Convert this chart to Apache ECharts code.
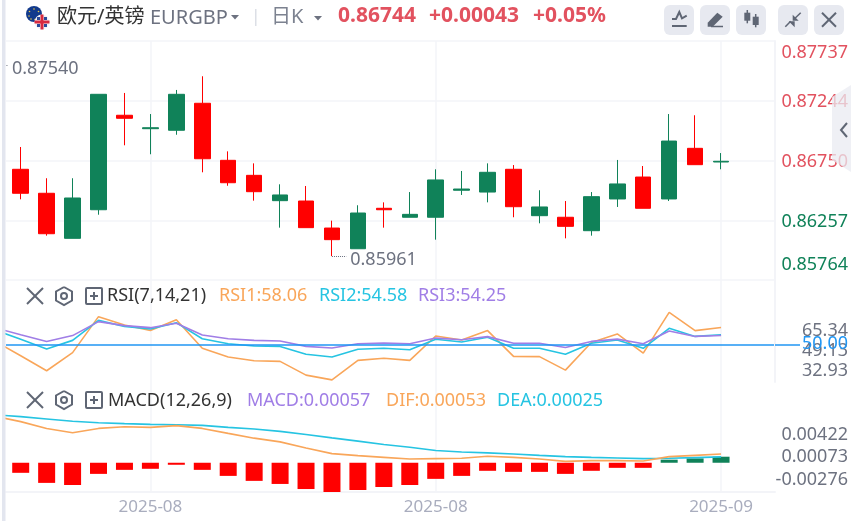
<!DOCTYPE html>
<html>
<head>
<meta charset="utf-8">
<title>EURGBP</title>
<style>
  html, body { margin: 0; padding: 0; background: #fff; }
  #chart { width: 851px; height: 521px; }
</style>
</head>
<body>
<div id="chart"></div>
<script src="https://cdn.jsdelivr.net/npm/echarts@6/dist/echarts.min.js"></script>
<script>
// 第一根(-1)在画面左边外面，只露出连线
const xIndex = [-1, 0, 1, 2, 3, 4, 5, 6, 7, 8, 9, 10, 11, 12, 13, 14, 15, 16, 17, 18, 19, 20, 21, 22, 23, 24, 25, 26, 27]
const openPrice = [0.87300, 0.86678, 0.86480, 0.86108, 0.86344, 0.87124, 0.87013, 0.87000, 0.87223, 0.86752, 0.86628, 0.86419, 0.86416, 0.86193, 0.86022, 0.86356, 0.86282, 0.86282, 0.86505, 0.86490, 0.86678, 0.86295, 0.86282, 0.86171, 0.86433, 0.86614, 0.86433, 0.86851, 0.86738]
const closePrice = [0.86700, 0.86480, 0.86146, 0.86441, 0.87297, 0.87099, 0.87021, 0.87297, 0.86765, 0.86567, 0.86493, 0.86466, 0.86196, 0.86097, 0.86317, 0.86344, 0.86306, 0.86590, 0.86515, 0.86653, 0.86369, 0.86367, 0.86207, 0.86452, 0.86557, 0.86356, 0.86911, 0.86716, 0.86744]
const lowPrice = [0.86650, 0.86430, 0.86130, 0.86108, 0.86303, 0.86876, 0.86802, 0.86963, 0.86653, 0.86542, 0.86419, 0.86196, 0.86196, 0.85961, 0.86022, 0.86196, 0.86282, 0.86097, 0.86466, 0.86405, 0.86282, 0.86232, 0.86108, 0.86130, 0.86367, 0.86356, 0.86416, 0.86716, 0.86678]
const highPrice = [0.87540, 0.86862, 0.86604, 0.86604, 0.87297, 0.87308, 0.87134, 0.87333, 0.87446, 0.86826, 0.86727, 0.86554, 0.86540, 0.86254, 0.86381, 0.86405, 0.86490, 0.86678, 0.86664, 0.86727, 0.86713, 0.86505, 0.86416, 0.86490, 0.86755, 0.86705, 0.87134, 0.87124, 0.86812]

const rsi1 = [51.6, 44.5, 37.3, 46.0, 63.3, 59.3, 56.6, 61.8, 48.1, 43.9, 42.1, 41.8, 35.2, 32.93, 42.3, 43.3, 42.3, 54.0, 52.1, 56.6, 44.2, 44.1, 37.6, 50.9, 55.0, 45.8, 65.34, 56.6, 58.06]
const rsi2 = [56.9, 52.4, 47.7, 51.9, 61.5, 58.6, 57.4, 60.4, 52.7, 50.3, 49.2, 49.0, 45.2, 43.9, 47.6, 48.1, 47.4, 52.4, 51.1, 53.4, 48.1, 48.1, 45.2, 50.5, 52.1, 48.1, 57.7, 53.8, 54.58]
const rsi3 = [58.0, 54.6, 51.4, 54.2, 60.9, 59.0, 58.0, 60.1, 54.5, 52.7, 51.9, 51.6, 49.0, 48.2, 50.3, 50.6, 50.3, 53.0, 52.2, 53.7, 50.5, 50.5, 48.5, 51.4, 52.5, 50.3, 56.4, 53.8, 54.25]

const macdBar = [-0.00060, -0.00095, -0.00190, -0.00210, -0.00105, -0.00067, -0.00057, -0.00019, -0.00067, -0.00124, -0.00171, -0.00200, -0.00248, -0.00276, -0.00257, -0.00229, -0.00210, -0.00152, -0.00124, -0.00076, -0.00086, -0.00086, -0.00105, -0.00076, -0.00048, -0.00048, 0.00029, 0.00041, 0.00057]
const dif = [0.00409, 0.00358, 0.00294, 0.00253, 0.00294, 0.00310, 0.00304, 0.00320, 0.00294, 0.00247, 0.00202, 0.00167, 0.00110, 0.00056, 0.00037, 0.00021, 0.00005, 0.00009, 0.00012, 0.00031, 0.00021, 0.00005, -0.00017, -0.00010, -0.00010, -0.00014, 0.00028, 0.00040, 0.00053]
const dea = [0.00422, 0.00405, 0.00383, 0.00361, 0.00348, 0.00339, 0.00332, 0.00329, 0.00323, 0.00304, 0.00288, 0.00266, 0.00237, 0.00205, 0.00174, 0.00142, 0.00117, 0.00085, 0.00072, 0.00063, 0.00053, 0.00040, 0.00028, 0.00021, 0.00015, 0.00009, 0.00012, 0.00018, 0.00025]

const dateTickIndex = [5, 16, 27]
const dateTickLabel = ['2025-08', '2025-08', '2025-09']
const priceTicks = [0.85764, 0.86257, 0.86750, 0.87244, 0.87737]
const rsiTicks = [32.93, 49.13, 65.34]
const macdTicks = [-0.00276, 0.00073, 0.00422]
const rsiBase = [50]

const FONT = '"Noto Sans", "Noto Sans CJK SC", sans-serif'
const UP = '#108259'
const DOWN = '#ff0000'
const LINE = '#f3f4f8'
const GREY = '#6d7280'
const ICON = '#5f6674'
const ORANGE = '#f9a65a'
const CYAN = '#26c4e2'
const PURPLE = '#a07ee6'
const RED_TEXT = '#e2525f'

const myChart = echarts.init(document.getElementById('chart'))

function xAxisOf(gridIndex, showLabel) {
  return {
    type: 'value',
    gridIndex: gridIndex,
    min: -0.567,
    max: 29.08,
    axisLine: { show: showLabel, onZero: false, lineStyle: { color: LINE, width: 2 } },
    axisTick: { show: false, customValues: dateTickIndex },
    axisLabel: {
      show: showLabel,
      customValues: dateTickIndex,
      margin: 7,
      fontFamily: FONT,
      fontSize: 17,
      color: '#a9adbe',
      formatter: (v) => dateTickLabel[dateTickIndex.indexOf(v)],
    },
    splitLine: { show: true, lineStyle: { color: LINE, width: 1.5 } },
  }
}

// 只负责写数字的轴，数字的位置和曲线不是同一个比例
function labelAxis(gridIndex, min, max, ticks, decimals) {
  return {
    type: 'value',
    gridIndex: gridIndex,
    position: 'right',
    min: min,
    max: max,
    axisLine: { show: false },
    axisTick: { show: false, customValues: ticks },
    splitLine: { show: false },
    axisLabel: {
      customValues: ticks,
      margin: 73,
      align: 'right',
      fontFamily: FONT,
      fontSize: 18,
      color: GREY,
      formatter: (v) => v.toFixed(decimals),
    },
  }
}

function hiddenAxis(gridIndex, min, max) {
  return {
    type: 'value',
    gridIndex: gridIndex,
    position: 'right',
    min: min,
    max: max,
    axisLine: { show: false },
    axisTick: { show: false },
    axisLabel: { show: false },
    splitLine: { show: false },
  }
}

function lineSeries(data, color, yAxisIndex, gridIndex) {
  return {
    type: 'line',
    xAxisIndex: gridIndex,
    yAxisIndex: yAxisIndex,
    data: xIndex.map((x, i) => [x, data[i]]),
    showSymbol: false,
    lineStyle: { color: color, width: 1.6 },
    z: 3,
  }
}

function text(x, y, str, color, size, weight) {
  return {
    type: 'text',
    x: x,
    y: y,
    style: {
      text: str,
      fill: color,
      font: (weight || 'normal') + ' ' + size + 'px ' + FONT,
      textVerticalAlign: 'middle',
    },
    z: 20,
  }
}

function poly(points, color, width) {
  return {
    type: 'polyline',
    shape: { points: points },
    style: { stroke: color || ICON, lineWidth: width || 2, fill: 'none' },
    z: 20,
  }
}

function solid(points, color, z) {
  return { type: 'polygon', shape: { points: points }, style: { fill: color || ICON }, z: z || 20 }
}

function button(x) {
  return {
    type: 'rect',
    shape: { x: x, y: 5, width: 30, height: 30, r: 6 },
    style: { fill: '#e7e9f0' },
    z: 19,
  }
}

function panelIcons(y) {
  return [
    poly([[27, y - 8], [43, y + 8]], ICON, 2),
    poly([[43, y - 8], [27, y + 8]], ICON, 2),
    poly([[64, y - 9], [72, y - 4.5], [72, y + 4.5], [64, y + 9], [56, y + 4.5], [56, y - 4.5], [64, y - 9]], ICON, 2),
    { type: 'circle', shape: { cx: 64, cy: y, r: 3 }, style: { stroke: ICON, lineWidth: 2, fill: 'none' }, z: 20 },
    { type: 'rect', shape: { x: 86, y: y - 8, width: 16, height: 16, r: 1 }, style: { stroke: ICON, lineWidth: 2, fill: 'none' }, z: 20 },
    poly([[94, y - 4], [94, y + 4]], ICON, 2),
    poly([[90, y], [98, y]], ICON, 2),
  ]
}

function star(cx, cy) {
  return { type: 'circle', shape: { cx: cx, cy: cy, r: 0.8 }, style: { fill: '#e8c84a' }, z: 20 }
}

const graphicItems = [
  // 左边的灰条
  { type: 'rect', shape: { x: 0, y: 0, width: 2, height: 521 }, style: { fill: '#fff' }, z: 18 },
  { type: 'rect', shape: { x: 2, y: 0, width: 3.5, height: 521 }, style: { fill: '#e3e6ef' }, z: 18 },
  // 国旗
  { type: 'circle', shape: { cx: 34, cy: 14, r: 8 }, style: { fill: '#123a8c' }, z: 20 },
  star(34, 9), star(29.5, 11.5), star(38.5, 11.5), star(29, 16), star(31, 19), star(35, 19.5),
  { type: 'circle', shape: { cx: 42, cy: 22, r: 7.5 }, style: { fill: '#f1f1f6' }, z: 21 },
  solid([[37, 17], [40, 17], [40, 20], [37, 20]], '#2a4a9a', 21),
  solid([[44, 17], [47, 17], [47, 20], [44, 20]], '#2a4a9a', 21),
  solid([[37, 24], [40, 24], [40, 27], [37, 27]], '#2a4a9a', 21),
  solid([[44, 24], [47, 24], [47, 27], [44, 27]], '#2a4a9a', 21),
  { type: 'rect', shape: { x: 40.5, y: 14.5, width: 3, height: 15 }, style: { fill: '#d8293f' }, z: 22 },
  { type: 'rect', shape: { x: 34.5, y: 20.5, width: 15, height: 3 }, style: { fill: '#d8293f' }, z: 22 },
  text(57, 17, '欧元/英镑', '#333', 20),
  text(150, 18, 'EURGBP', GREY, 20),
  solid([[231, 15], [239, 15], [235, 19.5]], GREY),
  { type: 'rect', shape: { x: 255, y: 9, width: 1.5, height: 17 }, style: { fill: '#dcdfe6' }, z: 20 },
  text(271, 17, '日K', '#7c8290', 20),
  solid([[314, 16], [322, 16], [318, 20.5]], GREY),
  text(338, 16, '0.86744', RED_TEXT, 21, 'bold'),
  text(429, 16, '+0.00043', RED_TEXT, 21, 'bold'),
  text(533, 16, '+0.05%', RED_TEXT, 21, 'bold'),
  button(664), button(700), button(736), button(778), button(814),
  // 工具按钮
  poly([[672, 19], [676, 19], [679.3, 12], [682, 18.3], [686.7, 15.7]], ICON, 2),
  poly([[672, 26], [686.7, 26]], ICON, 2),
  solid([[707.7, 22.7], [717.3, 12.7], [722.7, 16.7], [712.7, 26.7], [707.7, 26.7]]),
  poly([[711, 26.5], [723, 26.5]], ICON, 1.5),
  { type: 'rect', shape: { x: 744.3, y: 12.7, width: 6, height: 8 }, style: { fill: ICON }, z: 20 },
  poly([[747.3, 10], [747.3, 23.3]], ICON, 1.5),
  { type: 'rect', shape: { x: 752.7, y: 16.7, width: 6, height: 8.3 }, style: { fill: ICON }, z: 20 },
  poly([[755.7, 14], [755.7, 27.3]], ICON, 1.5),
  poly([[785.3, 26.7], [790.7, 21.3]], ICON, 1.5),
  solid([[788.7, 21.3], [794.7, 21.3], [794.7, 27.3]]),
  poly([[800.7, 12.7], [795, 18.3]], ICON, 1.5),
  solid([[792.7, 14.7], [792.7, 20.7], [798.7, 20.7]]),
  poly([[822, 12.7], [836, 26.7]], ICON, 2),
  poly([[836, 12.7], [822, 26.7]], ICON, 2),
  // 右边收起的小把手
  { type: 'polygon', shape: { points: [[851, 85], [832, 97], [832, 160], [851, 172]] }, style: { fill: 'rgba(233,235,241,0.75)' }, z: 19 },
  poly([[847, 123], [841, 130], [847, 137]], ICON, 2),
  // 副图标题
  ...panelIcons(296),
  text(107, 296, 'RSI(7,14,21)', '#333', 18),
  text(219, 296, 'RSI1:58.06', ORANGE, 18),
  text(319, 296, 'RSI2:54.58', CYAN, 18),
  text(418, 296, 'RSI3:54.25', PURPLE, 18),
  ...panelIcons(400),
  text(108, 401, 'MACD(12,26,9)', '#333', 18),
  text(247, 401, 'MACD:0.00057', PURPLE, 18),
  text(386, 401, 'DIF:0.00053', ORANGE, 18),
  text(497, 401, 'DEA:0.00025', CYAN, 18),
]

const extremeLabel = {
  show: true,
  position: 'end',
  distance: 4,
  offset: [0, 4],
  fontFamily: FONT,
  fontSize: 18,
  color: GREY,
  formatter: (p) => p.value.toFixed(5),
}

const option = {
  animation: false,
  backgroundColor: '#fff',
  grid: [
    { left: 6, width: 769, top: 41, height: 239 },
    { left: 6, width: 769, top: 280, height: 102 },
    { left: 6, width: 769, top: 382, height: 110 },
  ],
  xAxis: [xAxisOf(0, false), xAxisOf(1, false), xAxisOf(2, true)],
  yAxis: [
    {
      type: 'value',
      gridIndex: 0,
      position: 'right',
      min: priceTicks[0],
      max: priceTicks[4],
      axisLine: { show: true, onZero: false, lineStyle: { color: LINE, width: 2 } },
      axisTick: { show: false, customValues: priceTicks },
      splitLine: { show: true, lineStyle: { color: LINE, width: 1.5 } },
      axisLabel: {
        customValues: priceTicks,
        margin: 73,
        align: 'right',
        fontFamily: FONT,
        fontSize: 18,
        color: (v) => (parseFloat(v) >= 0.867 ? RED_TEXT : UP),
        // 最上最下两个数字往里收，中间的略低于网格线
        formatter: (v) => {
          const key = v === priceTicks[4] ? 't' : v === priceTicks[0] ? 'b' : 'm'
          return '{' + key + '|' + v.toFixed(5) + '}'
        },
        rich: {
          t: { padding: [24, 0, 0, 0], fontFamily: FONT, fontSize: 18 },
          m: { padding: [3, 0, 0, 0], fontFamily: FONT, fontSize: 18 },
          b: { padding: [0, 0, 30, 0], fontFamily: FONT, fontSize: 18 },
        },
      },
    },
    {
      type: 'value',
      gridIndex: 1,
      position: 'right',
      min: 31.9,
      max: 80.9,
      axisLine: { show: true, onZero: false, lineStyle: { color: LINE, width: 2 } },
      axisTick: { show: true, customValues: rsiBase, length: 25, lineStyle: { color: '#2196f3', width: 1.5 } },
      splitLine: { show: false },
      axisLabel: {
        customValues: rsiBase,
        margin: 73,
        align: 'right',
        fontFamily: FONT,
        fontSize: 18,
        color: '#2196f3',
        formatter: (v) => v.toFixed(2),
      },
      z: 5,
    },
    labelAxis(1, 23.6, 106.24, rsiTicks, 2),
    hiddenAxis(2, -0.00306, 0.00732),
    hiddenAxis(2, -0.00276, 0.00762),
    labelAxis(2, -0.0047, 0.01236, macdTicks, 5),
  ],
  series: [
    {
      type: 'candlestick',
      xAxisIndex: 0,
      yAxisIndex: 0,
      barWidth: 16,
      data: xIndex.map((x, i) => [x, openPrice[i], closePrice[i], lowPrice[i], highPrice[i]]),
      itemStyle: { color: UP, color0: DOWN, borderColor: UP, borderColor0: DOWN, borderWidth: 1 },
      markLine: {
        silent: true,
        symbol: 'none',
        lineStyle: { color: GREY, type: 'dotted', width: 1 },
        label: extremeLabel,
        data: [
          [{ coord: [-0.55, highPrice[0]], value: highPrice[0] }, { coord: [-0.49, highPrice[0]] }],
          [{ coord: [12, lowPrice[13]], value: lowPrice[13] }, { coord: [12.55, lowPrice[13]] }],
        ],
      },
    },
    lineSeries(rsi1, ORANGE, 1, 1),
    lineSeries(rsi2, CYAN, 1, 1),
    Object.assign(lineSeries(rsi3, PURPLE, 1, 1), {
      markLine: {
        silent: true,
        symbol: 'none',
        label: { show: false },
        lineStyle: { color: '#2196f3', type: 'solid', width: 1.5 },
        data: [{ yAxis: rsiBase[0] }],
      },
    }),
    {
      type: 'bar',
      xAxisIndex: 2,
      yAxisIndex: 4,
      barWidth: 17,
      data: xIndex.map((x, i) => ({
        value: [x, macdBar[i]],
        itemStyle: { color: macdBar[i] >= 0 ? UP : DOWN },
      })),
    },
    lineSeries(dea, CYAN, 3, 2),
    lineSeries(dif, ORANGE, 3, 2),
  ],
  graphic: { elements: graphicItems },
}

myChart.setOption(option)
</script>
</body>
</html>
